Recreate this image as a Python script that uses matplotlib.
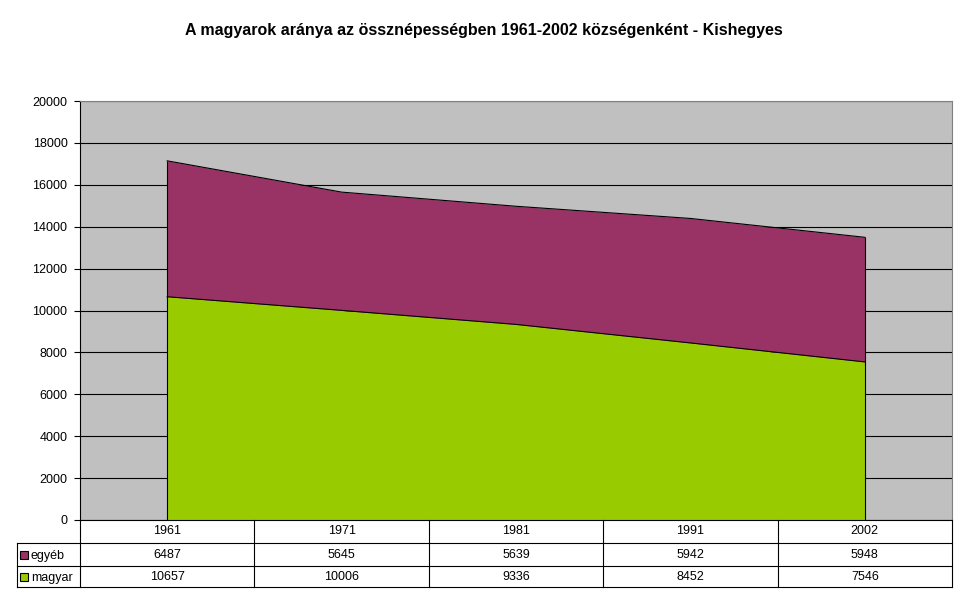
import numpy as np
import matplotlib.pyplot as plt
from matplotlib.lines import Line2D
from matplotlib.patches import Rectangle
plt.rcParams.update({'font.family': ['Liberation Sans', 'DejaVu Sans']})
plt.rcParams.update({'font.size': 9})

years = ['1961', '1971', '1981', '1991', '2002']
egyeb = [6487, 5645, 5639, 5942, 5948]
magyar = [10657, 10006, 9336, 8452, 7546]
title = 'A magyarok aránya az össznépességben 1961-2002 községenként - Kishegyes'

W, H = 968, 604
fig = plt.figure(figsize=(W / 100, H / 100), dpi=100)

def fx(px):
    return px / W

def fy(py):
    return 1 - py / H

L, R, T, B = 80, 952, 101, 520  # plot area in pixels
ax = fig.add_axes([fx(L), fy(B), fx(R) - fx(L), fy(T) - fy(B)])
ax.set_facecolor('#C0C0C0')

x = np.arange(len(years)) + 0.5
m = np.array(magyar)
e = np.array(egyeb)
ax.fill_between(x, 0, m, color='#99CC00', lw=0)
ax.fill_between(x, m, m + e, color='#993366', lw=0)
ax.plot(x, m, color='black', lw=0.8)
ax.plot(x, m + e, color='black', lw=0.8)
ax.vlines([x[0], x[-1]], 0, [m[0] + e[0], m[-1] + e[-1]], color='black', lw=0.8)

ax.set_xlim(0, 5)
ax.set_ylim(0, 20000)
ax.set_yticks(range(0, 20001, 2000))
ax.yaxis.grid(True, color='black', lw=0.8)
ax.set_axisbelow(True)
ax.set_xticks([])
ax.tick_params(axis='y', length=4, width=0.8, pad=5, labelsize=9)
for s in ['top', 'right']:
    ax.spines[s].set_color('#808080')
ax.spines['left'].set_color('black')
ax.spines['bottom'].set_visible(False)

fig.text(0.5, fy(31), title, ha='center', va='center', fontsize=11.5, fontweight='bold')

# data table
rows = [520, 543, 566, 587]
tl = 17
cw = (R - L) / len(years)

def hline(px0, px1, py):
    fig.add_artist(Line2D([fx(px0), fx(px1)], [fy(py), fy(py)], color='black', lw=0.8))

def vline(px, py0, py1):
    fig.add_artist(Line2D([fx(px), fx(px)], [fy(py0), fy(py1)], color='black', lw=0.8))

hline(L, R, rows[0])
for py in rows[1:]:
    hline(tl, R, py)
vline(tl, rows[1], rows[3])
for i in range(len(years) + 1):
    vline(L + i * cw, rows[0], rows[3])

for i, yr in enumerate(years):
    cx = fx(L + (i + 0.5) * cw)
    fig.text(cx, fy((rows[0] + rows[1]) / 2), yr, ha='center', va='center', fontsize=9)
    fig.text(cx, fy((rows[1] + rows[2]) / 2), str(egyeb[i]), ha='center', va='center', fontsize=9)
    fig.text(cx, fy((rows[2] + rows[3]) / 2), str(magyar[i]), ha='center', va='center', fontsize=9)

for r, (lab, col) in enumerate([('egyéb', '#993366'), ('magyar', '#99CC00')]):
    cy = (rows[r + 1] + rows[r + 2]) / 2
    fig.add_artist(Rectangle((fx(20), fy(cy + 4)), fx(8), fy(0) - fy(8),
                             facecolor=col, edgecolor='black', lw=0.8))
    fig.text(fx(31), fy(cy + 4), lab, ha='left', va='baseline', fontsize=9)

plt.savefig('out.png', dpi=100)
